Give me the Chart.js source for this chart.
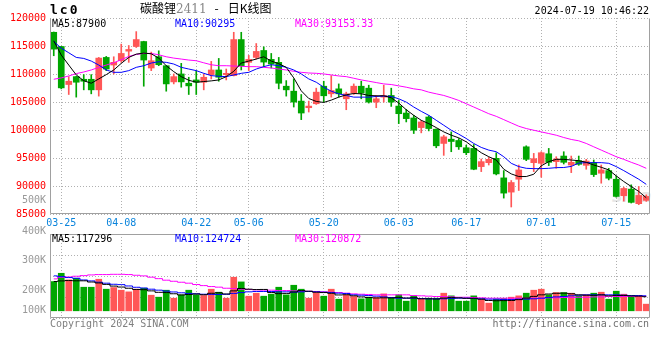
<!DOCTYPE html>
<html>
<head>
<meta charset="utf-8">
<script src="https://cdn.jsdelivr.net/npm/chart.js@4.4.1/dist/chart.umd.min.js"></script>
<style>
  body { margin: 0; background: #fff; }
  #wrap { position: relative; width: 660px; height: 360px; overflow: hidden; }
  #wrap canvas { position: absolute; left: 0; }
  .txt { position: absolute; white-space: pre; line-height: 12px; font-family: "DejaVu Sans Mono", monospace; font-size: 10px; }
</style>
</head>
<body>
<div id="wrap">
  <canvas id="kline" width="660" height="232" style="top:0"></canvas>
  <canvas id="vol" width="660" height="100" style="top:226px"></canvas>
</div>
<script>
// 行情数据
const days = [
  '03-22','03-25','03-26','03-27','03-28','03-29','04-01','04-02','04-03',
  '04-08','04-09','04-10','04-11','04-12','04-15','04-16','04-17','04-18','04-19',
  '04-22','04-23','04-24','04-25','04-26','04-29','04-30',
  '05-06','05-07','05-08','05-09','05-10','05-13','05-14','05-15','05-16','05-17',
  '05-20','05-21','05-22','05-23','05-24','05-27','05-28','05-29','05-30','05-31',
  '06-03','06-04','06-05','06-06','06-07','06-11','06-12','06-13','06-14',
  '06-17','06-18','06-19','06-20','06-21','06-24','06-25','06-26','06-27','06-28',
  '07-01','07-02','07-03','07-04','07-05','07-08','07-09','07-10','07-11','07-12',
  '07-15','07-16','07-17','07-18','07-19'
];
const tickDates = ['03-25','04-08','04-22','05-06','05-20','06-03','06-17','07-01','07-15'];

const opens = [117450,114910,108120,109530,109060,109060,107170,112960,111600,112370,
  114080,114910,115800,111070,113080,111480,108590,110010,108350,108940,
  108530,109890,110720,109890,109710,116150,112080,112960,114200,112610,
  112080,107820,106930,105160,103980,104690,107820,106460,107350,105570,
  106580,107820,107470,104980,105870,106170,104270,103030,102150,100430,
  102320,100140,97600,98360,98130,96830,96710,93460,94170,94940,
  91450,88910,91210,97000,94170,94050,95760,94350,95350,93750,
  94520,93690,94170,92280,92750,91210,88260,89440,86840,87430];
const highs = [117500,114950,109530,109600,109890,109890,112960,113140,113080,115330,
  115090,117570,115850,113910,114140,111500,110010,111900,109420,110600,
  110010,112250,112780,110890,117450,117450,113320,115440,114850,113670,
  112960,108820,109120,106340,105160,107470,108710,109710,108230,106760,
  108230,108710,108000,106170,108000,107470,105280,103680,102620,101730,
  102560,100200,99070,99660,98480,97300,97420,94820,95110,95940,
  92750,90980,93750,97180,95820,96120,96710,95230,96120,95350,
  95350,94760,94640,93750,93160,91800,89790,90210,89910,88430];
const lows = [113260,107350,106340,105870,107170,106460,106050,110600,110010,112080,
  112080,114730,107820,110600,111480,106930,108230,107640,106340,106340,
  107170,109120,108710,108940,109650,110720,110600,112670,111310,111070,
  107350,106050,104100,101850,103210,104570,104980,105870,105870,103620,
  106340,105570,104810,103980,104980,104210,101140,101440,99370,99490,
  99840,96830,95470,96120,96530,95590,92900,92570,93750,91980,
  87840,86250,89200,94520,92570,91570,93640,93160,93930,92390,
  93690,92990,91690,90500,91090,88020,87300,86960,86660,87250];
const closes = [114440,107520,108710,108530,108710,107170,112840,110890,112080,113670,
  114380,116150,112490,112370,111660,108230,109530,108590,107880,108530,
  109420,110720,109420,110120,116150,111480,112610,114030,112130,111780,
  108350,107170,104980,103030,104270,106760,106110,107050,106460,106460,
  107820,106580,104980,105570,106170,104980,102910,102030,99960,101440,
  100260,97180,98780,97950,97000,95940,92990,94350,94760,92160,
  88730,90620,92870,94760,94880,95940,94230,94820,94230,94230,
  93870,94460,92040,92870,91390,88140,89560,87080,88320,88140];

const ma5 = [115920,113380,111600,109830,108800,108350,109120,109890,110720,111900,
  112960,113550,113730,113610,112840,111480,110420,109530,108880,108530,
  108650,108770,108940,109530,110480,111960,112310,112670,113080,112310,
  111840,111190,109300,106990,105630,105100,104920,105340,105870,106280,
  106520,106460,106170,106110,106110,105750,104810,103620,102620,101730,
  101140,100430,99660,99070,98600,97890,96890,95940,95230,94640,
  93000,92160,91690,91690,92100,93600,94350,94760,94760,94640,
  94520,94230,93750,93340,92870,91800,90800,89910,89030,87900];
const ma10 = [115800,114620,113790,112960,112780,112310,111600,110720,110300,110300,
  110600,111190,111480,111960,112190,112080,111780,111190,110890,110600,
  110120,109710,109590,109530,109830,110120,110300,110890,111310,111660,
  111480,111190,110720,110010,109120,108530,107640,106930,106460,106170,
  105870,105870,105870,105990,106050,105990,105570,104980,104100,103330,
  102620,101730,100850,99960,99250,98480,97600,96890,96410,96120,
  95230,94050,93460,93160,93100,93100,93160,93280,93300,93500,
  94100,94170,94170,94170,94050,93460,92750,91980,91210,90295];
const ma30 = [109060,109300,109650,110070,110360,110720,111190,111600,112020,112550,
  113140,113490,113670,113670,113430,113080,112840,112670,112490,112370,
  112000,111650,111480,111480,111420,111370,111310,111310,111190,111070,
  110890,110720,110480,110300,110180,110120,110010,109830,109650,109530,
  109240,108940,108710,108470,108230,108120,107880,107640,107350,107170,
  106760,106460,106170,105750,105280,104690,104100,103510,102910,102440,
  101850,101260,100670,100260,99960,99660,99370,99070,98660,98310,
  98070,97600,97000,96410,95820,95230,94760,94230,93750,93153];

const vols = [243600,312800,257400,271300,196500,196500,263000,180000,193800,171600,
  157800,180000,188000,130000,113500,171600,105000,132900,171600,132900,
  127300,180000,155000,105000,279600,240800,121800,146700,121800,138400,
  196500,132900,213000,180000,105000,152000,121800,180000,96900,132900,
  119000,99600,113500,110700,141200,110700,132900,80300,124600,99600,
  105000,105000,146700,124600,80300,80300,124600,96900,63700,96900,
  102400,113500,124600,146700,171600,180000,132900,152000,152000,146700,
  124600,132900,146700,155000,96900,163300,138400,124600,124600,55400];
const volMa5 = [244000,249000,252000,250000,250000,240000,232000,220000,206000,198000,
  188000,178000,176000,166000,154000,152000,142000,132000,136000,140000,
  134000,146000,150000,140000,166000,186000,180000,177000,178000,152000,
  143000,145000,157000,168000,163000,155000,152000,146000,132000,134000,
  125000,116000,111000,107000,108000,107000,112000,106000,108000,100000,
  100000,98000,106000,110000,108000,104000,104000,97000,86000,84000,
  85000,86000,93000,106000,120000,133000,140000,146000,147000,142000,
  133000,130000,129000,133000,125000,128000,128000,124000,122000,117296];
const volMa10 = [291000,285000,277000,271000,257000,249000,238000,230000,221000,218000,
  207000,196000,190000,180000,172000,164000,157000,150000,145000,142000,
  138000,137000,136000,138000,145000,152000,158000,161000,161000,161000,
  158000,158000,155000,158000,161000,158000,155000,152000,147000,144000,
  133000,130000,127000,122000,116000,111000,105000,105000,105000,102000,
  100000,100000,100000,102000,105000,105000,102000,100000,97000,97000,
  94000,94000,97000,97000,100000,105000,111000,116000,119000,125000,
  130000,133000,133000,133000,133000,133000,130000,127000,127000,124724];
const volMa30 = [266000,280000,282000,288000,293000,299000,302000,302000,304000,304000,
  302000,296000,291000,280000,268000,255000,246000,238000,230000,219000,
  210000,202000,197000,188000,185000,180000,177000,174000,172000,172000,
  169000,169000,166000,163000,163000,161000,158000,155000,152000,147000,
  141000,138000,136000,133000,133000,133000,133000,133000,127000,125000,
  122000,119000,119000,116000,113000,113000,111000,108000,105000,105000,
  105000,105000,105000,105000,105000,105000,108000,108000,111000,111000,
  113000,113000,116000,116000,119000,119000,119000,119000,122000,120872];

const symbol = 'lc0';
const titleName = '碳酸锂';
const titleCode = '2411';
const titleDash = '-';
const titleKind = '日K线图';
const stamp = '2024-07-19 10:46:22';
const maLabels = ['MA5:87900', 'MA10:90295', 'MA30:93153.33'];
const volMaLabels = ['MA5:117296', 'MA10:124724', 'MA30:120872'];
const volTickLabels = ['500K', '400K', '300K', '200K', '100K'];
const copyright = 'Copyright 2024 SINA.COM';
const siteUrl = 'http://finance.sina.com.cn';

const RED = '#ff5757';
const GREEN = '#00a600';
const MA_COLORS = ['#000000', '#0000ff', '#ff00ff'];
const MONO = 'DejaVu Sans Mono';

const candleColors = closes.map((c, i) => c >= opens[i] ? RED : GREEN);

// 文字
const wrap = document.getElementById('wrap');
function addText(text, css, parent) {
    const d = document.createElement(parent ? 'span' : 'div');
    if (!parent) d.className = 'txt';
    d.textContent = text;
    Object.assign(d.style, css);
    (parent || wrap).appendChild(d);
    return d;
}

addText('sina', { left: '612px', top: '186px', font: 'bold italic 17px "DejaVu Sans"', color: '#e6e6e6', zIndex: -1 });
wrap.style.zIndex = 0;

addText(symbol, { left: '50px', top: '2px', font: 'bold 13px "DejaVu Sans Mono"', letterSpacing: '2px', lineHeight: '15px' });
const t = addText('', { left: '140px', top: '1px', font: '12px "Noto Sans CJK SC"', lineHeight: '14px' });
addText(titleName, {}, t);
addText(titleCode, { color: '#888', fontFamily: '"DejaVu Serif"', fontSize: '12px' }, t);
addText(titleDash, { padding: '0 9px 0 8px' }, t);
addText(titleKind, {}, t);
addText(stamp, { right: '11px', top: '5px' });

const legendX = [52, 175, 295];
maLabels.forEach((s, i) => addText(s, { left: legendX[i] + 'px', top: '18px', color: MA_COLORS[i] }));
volMaLabels.forEach((s, i) => addText(s, { left: legendX[i] + 'px', top: '233px', color: MA_COLORS[i] }));

const volLabelTop = [194, 225, 254, 284, 304];
volTickLabels.forEach((s, i) => addText(s, { right: '614px', top: volLabelTop[i] + 'px', color: '#999' }));

addText(copyright, { left: '50px', top: '318px', color: '#808080' });
addText(siteUrl, { right: '11px', top: '318px', color: '#707070' });

// 边框
const frame = {
    id: 'frame',
    afterDraw(chart, args, opts) {
        const { ctx, chartArea: a } = chart;
        const l = Math.round(a.left) + 0.5, r = Math.round(a.right) - 0.5;
        const tp = Math.round(a.top) + 0.5, b = Math.round(a.bottom) - 0.5;
        ctx.save();
        ctx.strokeStyle = '#a0a0a0';
        ctx.lineWidth = 1;
        ctx.beginPath();
        ctx.moveTo(l, tp); ctx.lineTo(l, b); ctx.lineTo(r, b); ctx.lineTo(r, tp);
        if (opts.top) ctx.lineTo(l, tp);
        ctx.stroke();
        ctx.restore();
    }
};

const dotted = { color: '#b0b0b0', lineWidth: 1, drawTicks: false };
const dotBorder = { display: false, dash: [1, 2] };
const keepDateTicks = s => { s.ticks = s.ticks.filter(tk => tickDates.includes(days[tk.value])); };

function maLine(data, color, stepped) {
    return {
        type: 'line', data: data, borderColor: color, borderWidth: 1,
        pointRadius: 0, tension: 0, stepped: stepped || false, order: 0
    };
}

// K线图
new Chart(document.getElementById('kline'), {
    type: 'bar',
    data: {
        labels: days,
        datasets: [
            maLine(ma5, MA_COLORS[0]),
            maLine(ma10, MA_COLORS[1]),
            maLine(ma30, MA_COLORS[2]),
            {
                data: opens.map((o, i) => [o, closes[i]]),
                backgroundColor: candleColors, barThickness: 6, minBarLength: 1,
                grouped: false, order: 1
            },
            {
                data: lows.map((l, i) => [l, highs[i]]),
                backgroundColor: candleColors, barThickness: 1,
                grouped: false, order: 2
            }
        ]
    },
    options: {
        responsive: false,
        animation: false,
        events: [],
        layout: { padding: { left: 0, right: 10, top: 18, bottom: 0 } },
        plugins: { legend: { display: false }, tooltip: { enabled: false }, frame: { top: false } },
        scales: {
            x: {
                offset: true,
                grid: Object.assign({ offset: false }, dotted),
                border: dotBorder,
                ticks: { autoSkip: false, maxRotation: 0, color: '#0a84dc', font: { family: MONO, size: 10 }, padding: 3 },
                afterBuildTicks: keepDateTicks,
                afterFit: s => { s.height = 18; }
            },
            y: {
                min: 85000, max: 120000,
                ticks: {
                    stepSize: 5000, color: '#ff0000', font: { family: MONO, size: 10 }, padding: 4,
                    callback: v => String(v)
                },
                grid: dotted,
                border: dotBorder,
                afterFit: s => { s.width = 50; }
            }
        }
    },
    plugins: [frame]
});

// 成交量
new Chart(document.getElementById('vol'), {
    type: 'bar',
    data: {
        labels: days,
        datasets: [
            maLine(volMa5, MA_COLORS[0], 'middle'),
            maLine(volMa10, MA_COLORS[1], 'middle'),
            maLine(volMa30, MA_COLORS[2], 'middle'),
            { data: vols, backgroundColor: candleColors, barThickness: 6, grouped: false, order: 1 }
        ]
    },
    options: {
        responsive: false,
        animation: false,
        events: [],
        layout: { padding: { left: 0, right: 10, top: 8, bottom: 8 } },
        plugins: { legend: { display: false }, tooltip: { enabled: false }, frame: { top: true } },
        scales: {
            x: {
                offset: true,
                grid: Object.assign({ offset: false }, dotted),
                border: dotBorder,
                ticks: { display: false, autoSkip: false },
                afterBuildTicks: keepDateTicks,
                afterFit: s => { s.height = 0; }
            },
            y: { display: false, min: -60000, max: 640000 },
            yg: {
                position: 'left', min: 0, max: 4,
                ticks: { display: false, stepSize: 1 },
                grid: dotted,
                border: dotBorder,
                afterFit: s => { s.width = 50; }
            }
        }
    },
    plugins: [frame]
});
</script>
</body>
</html>
